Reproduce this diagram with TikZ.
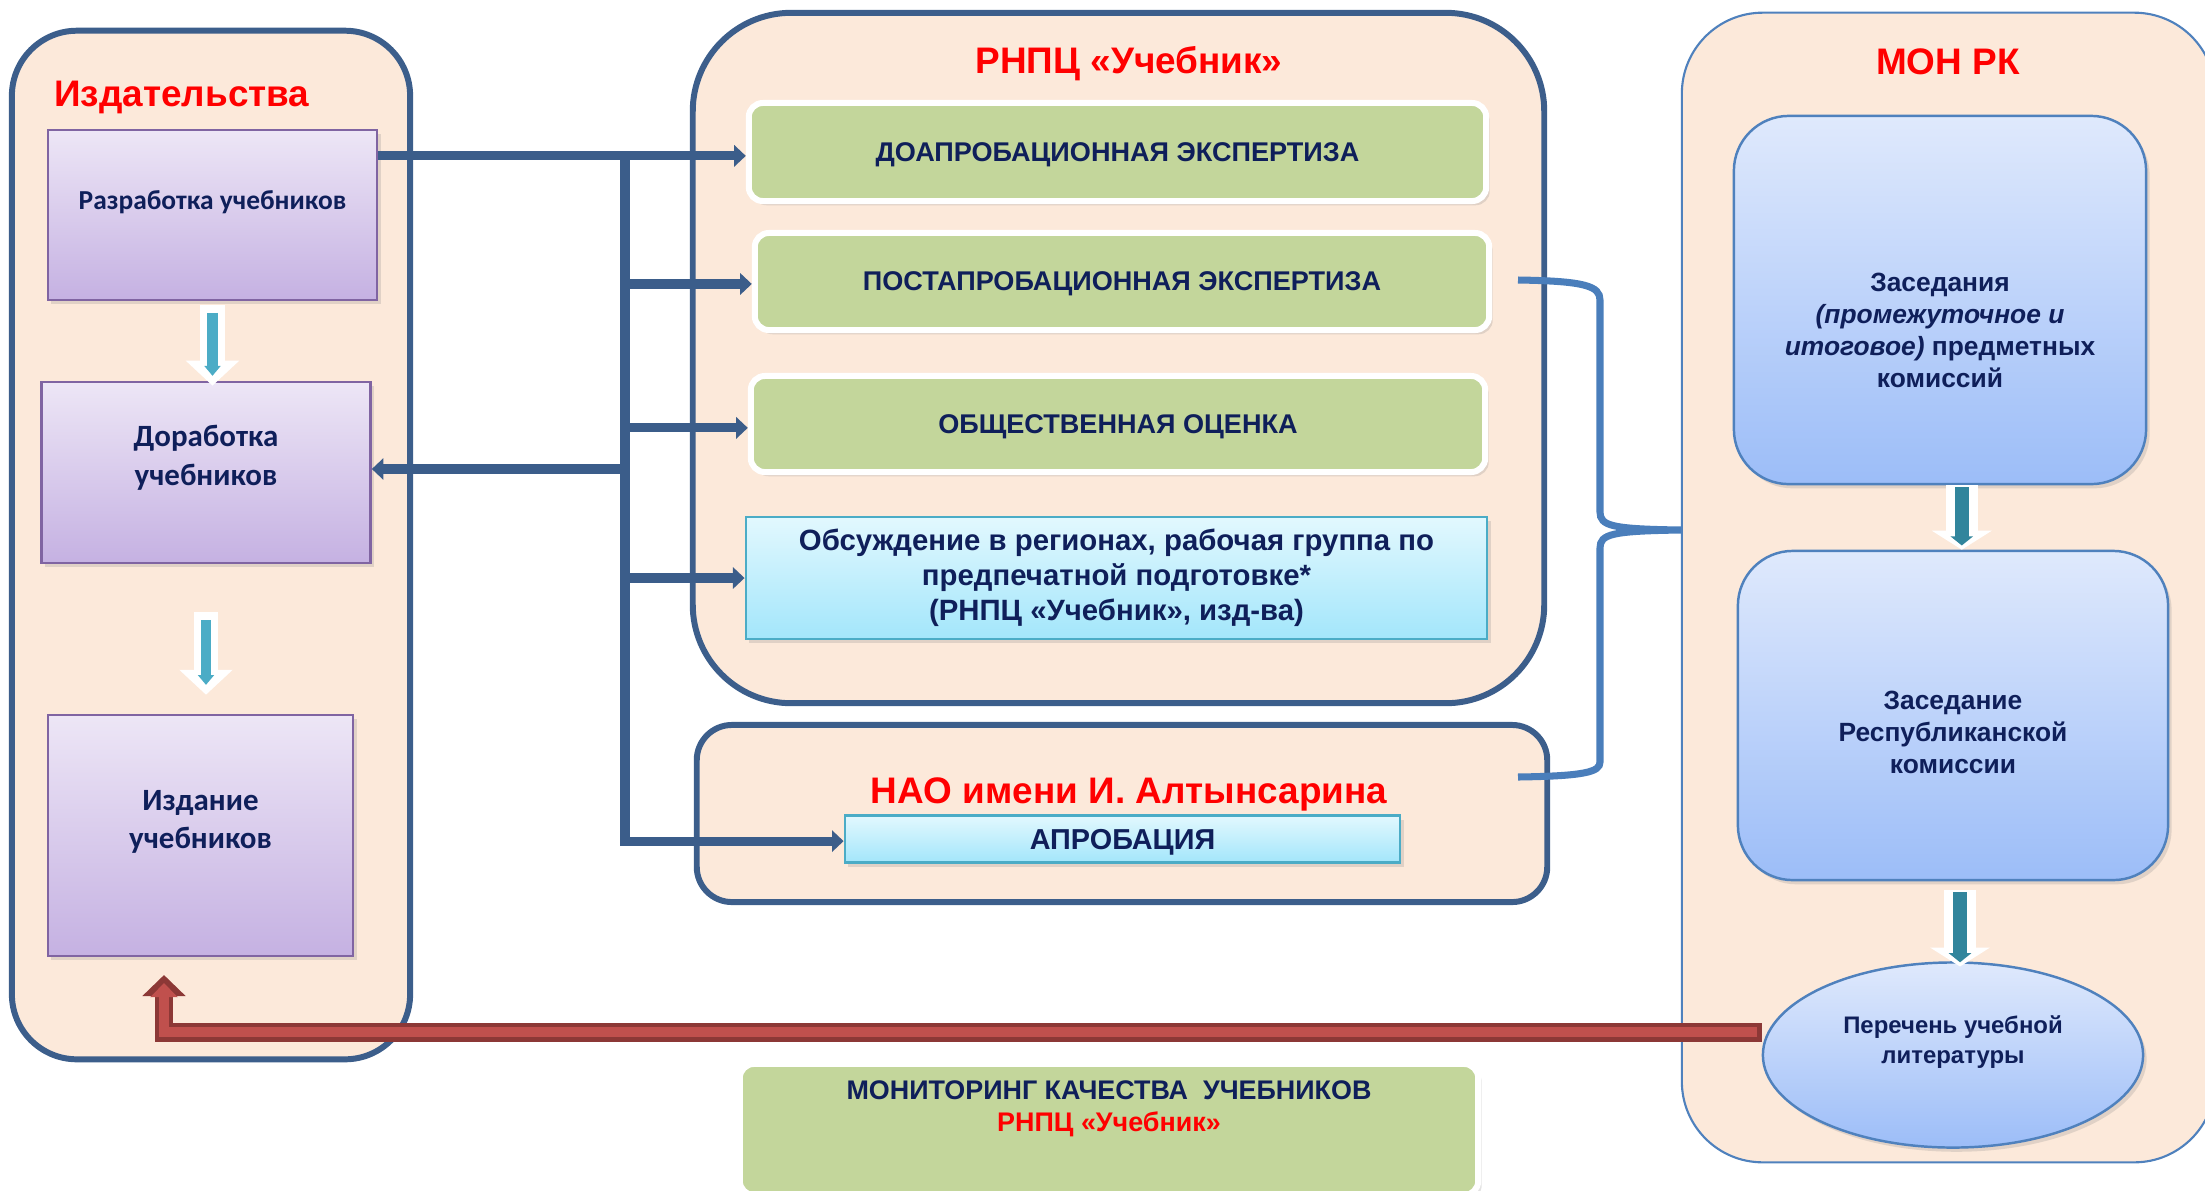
\documentclass[tikz,border=0pt]{standalone}
\usepackage{fontspec}
\setmainfont{Liberation Sans}
\newfontfamily\calfont{Carlito}
\usetikzlibrary{arrows.meta,shadows,shapes.geometric,calc}

\definecolor{peach}{HTML}{FCE9DA}
\definecolor{frame}{HTML}{3C5E8B}
\definecolor{navy}{HTML}{0F1F5A}
\definecolor{busblue}{HTML}{3B5D8A}
\definecolor{braceblue}{HTML}{4A7EBB}
\definecolor{grn}{HTML}{C3D69B}
\definecolor{lilac1}{HTML}{EDE6F6}
\definecolor{lilac2}{HTML}{C5B1E2}
\definecolor{lilacedge}{HTML}{8064A2}
\definecolor{cyan1}{HTML}{E2F8FE}
\definecolor{cyan2}{HTML}{A3E6FB}
\definecolor{cyanedge}{HTML}{4BACC6}
\definecolor{sky1}{HTML}{DFE9FC}
\definecolor{sky2}{HTML}{9CBDF8}
\definecolor{skyedge}{HTML}{4F81BD}
\definecolor{tealL}{HTML}{4BACC6}
\definecolor{tealR}{HTML}{31859C}
\definecolor{redfill}{HTML}{C0504D}
\definecolor{rededge}{HTML}{8C3836}

\tikzset{
  groupbox/.style={draw=frame, line width=1.7pt, fill=peach, inner sep=0pt},
  grouptitle/.style={text=red, font=\bfseries\fontsize{10.5}{12}\selectfont},
  softshadow/.style={drop shadow={opacity=0.22,shadow xshift=1pt,shadow yshift=-1.2pt}},
  lilacbox/.style={draw=lilacedge, line width=0.7pt, top color=lilac1, bottom color=lilac2, softshadow, inner sep=0pt},
  greenbox/.style={draw=white, line width=1.7pt, fill=grn, rounded corners=4pt, softshadow, inner sep=0pt,
    text depth=0pt, text=navy, font=\bfseries\fontsize{7.7}{9}\selectfont},
  cyanbox/.style={draw=cyanedge, line width=0.7pt, top color=cyan1, bottom color=cyan2, softshadow, inner sep=0pt,
    text=navy, align=center, font=\bfseries\fontsize{8.35}{10}\selectfont},
  skybox/.style={draw=skyedge, line width=0.7pt, top color=sky1, bottom color=sky2, softshadow, inner sep=0pt},
  lefttext/.style={text=navy, align=center, font=\calfont\bfseries\fontsize{8.8}{11}\selectfont},
  righttext/.style={text=navy, align=center, font=\bfseries\fontsize{7.5}{9.1}\selectfont},
  busline/.style={draw=busblue, line width=2.6pt},
  bustip/.style={-{Triangle[width=6pt,length=3.3pt]}},
  brace/.style={draw=braceblue, line width=2pt},
  hollowL/.style={draw=white, line width=7.1pt, -{Triangle[width=14.8pt,length=7.1pt]}},
  hollowLin/.style={draw=tealL, line width=3pt, -{Triangle[width=4.5pt,length=2.8pt]}, shorten <=2.3pt, shorten >=2.8pt},
  hollowR/.style={draw=white, line width=9.1pt, -{Triangle[width=16.8pt,length=5.4pt]}},
  hollowRin/.style={draw=tealR, line width=4pt, -{Triangle[width=6.3pt,length=2.6pt]}, shorten <=0.6pt, shorten >=1.2pt},
  redarrow/.style={draw=rededge, line width=5.4pt, line join=miter, -{Triangle[width=12pt,length=6pt]}},
  redarrowin/.style={draw=redfill, line width=3pt, line join=miter, -{Triangle[width=7.6pt,length=4pt]}, shorten >=2.3pt, shorten <=1.2pt}
}

\begin{document}
\begin{tikzpicture}[x=0.01cm,y=-0.01cm]
\useasboundingbox (0,0) rectangle (2205,1190);

% groups
\node[groupbox, rounded corners=18.5pt, minimum width=3.98cm, minimum height=10.28cm] (izd) at (211,545) {};
\node[groupbox, rounded corners=28pt, minimum width=8.51cm, minimum height=6.9cm] (rnpc) at (1118.5,358) {};
\node[groupbox, rounded corners=10pt, minimum width=8.5cm, minimum height=1.77cm] (nao) at (1122,813.5) {};
\node[groupbox, draw=skyedge, line width=0.6pt, rounded corners=23pt, minimum width=5.33cm, minimum height=11.49cm] (mon) at (1948.5,587.5) {};

\node[grouptitle, anchor=west] (izd-t) at (42,97) {Издательства};
\node[grouptitle] (rnpc-t) at (1129,64) {РНПЦ «Учебник»};
\node[grouptitle] (nao-t) at (1129,794) {НАО имени И. Алтынсарина};
\node[grouptitle] (mon-t) at (1948,62) {МОН РК};

% publishers
\node[lilacbox, minimum width=3.29cm, minimum height=1.7cm] (razr) at (212.5,215) {};
\node[lefttext, font=\calfont\bfseries\fontsize{7.8}{9}\selectfont] (razr-t) at (212.5,202) {Разработка учебников};
\node[lilacbox, minimum width=3.29cm, minimum height=1.81cm] (dorab) at (206,472.5) {};
\node[lefttext] (dorab-t) at (206,458) {Доработка\\учебников};
\node[lilacbox, minimum width=3.05cm, minimum height=2.41cm] (izdan) at (200.5,835.5) {};
\node[lefttext] (izdan-t) at (200.5,822) {Издание\\учебников};

% expertise
\node[greenbox, minimum width=7.37cm, minimum height=0.98cm] (doapr) at (1117.5,152) {ДОАПРОБАЦИОННАЯ ЭКСПЕРТИЗА};
\node[greenbox, minimum width=7.34cm, minimum height=0.97cm] (postapr) at (1122,281.5) {ПОСТАПРОБАЦИОННАЯ ЭКСПЕРТИЗА};
\node[greenbox, minimum width=7.34cm, minimum height=0.96cm] (obsh) at (1118,424) {ОБЩЕСТВЕННАЯ ОЦЕНКА};
\node[cyanbox, minimum width=7.41cm, minimum height=1.22cm] (obsuzh) at (1116.5,578) {Обсуждение в регионах, рабочая группа по\\предпечатной подготовке*\\(РНПЦ «Учебник», изд-ва)};
\node[cyanbox, text depth=0pt, font=\bfseries\fontsize{8.2}{10}\selectfont, minimum width=5.55cm, minimum height=0.47cm] (apr) at (1122.5,839) {АПРОБАЦИЯ};

% ministry
\node[skybox, rounded corners=15.6pt, minimum width=4.12cm, minimum height=3.68cm] (zas1) at (1940,300) {};
\node[righttext] (zas1-t) at (1940,330.5) {Заседания\\\textit{(промежуточное и}\\\textit{итоговое)} предметных\\комиссий};
\node[skybox, rounded corners=15.6pt, minimum width=4.3cm, minimum height=3.29cm] (zas2) at (1953,715.5) {};
\node[righttext] (zas2-t) at (1953,732.5) {Заседание\\Республиканской\\комиссии};
\node[skybox, ellipse, minimum width=3.8cm, minimum height=1.85cm] (per) at (1953,1055) {};
\node[righttext, font=\bfseries\fontsize{6.8}{8.4}\selectfont] (per-t) at (1953,1042) {Перечень учебной\\литературы};

% monitoring
\node[greenbox, minimum width=7.38cm, minimum height=1.31cm] (monit) at (1109,1129.5) {};
\node[righttext, font=\bfseries\fontsize{7.65}{9.2}\selectfont] (monit-t) at (1109,1109) {МОНИТОРИНГ КАЧЕСТВА\ \ УЧЕБНИКОВ\\\textcolor{red}{РНПЦ «Учебник»}};

% bus
\coordinate (trunk) at (625,0);
\draw[busline, bustip] ([yshift=-1.1pt]razr.east |- doapr.west) -- ([yshift=-1.1pt]doapr.west);
\draw[busline, line cap=rect] ([yshift=-1.1pt]trunk |- doapr.west) -- ([yshift=-0.6pt]trunk |- apr.west);
\foreach \b/\s in {postapr/-0.7pt,obsh/-1.1pt,obsuzh/0pt,apr/-0.6pt}
  \draw[busline, bustip] ([yshift=\s]trunk |- \b.west) -- ([yshift=\s]\b.west);
\draw[busline, bustip] ([yshift=1pt]trunk |- dorab.east) -- ([yshift=1pt]dorab.east);

% brace
\coordinate (brtip) at (mon.west |- 0,530);
\draw[brace] (1518,280) .. controls (1585,281) and (1600,286) .. (1600,300) -- (1600,512)
  .. controls (1600,526) and (1612,529) .. (brtip)
  .. controls (1612,531) and (1600,534) .. (1600,548) -- (1600,762)
  .. controls (1600,772) and (1585,776) .. (1518,777);

% steps
\draw[hollowL] ([yshift=-1pt]razr.south) -- ([yshift=-1.4pt]razr.south |- dorab.north);
\draw[hollowLin] ([yshift=-1pt]razr.south) -- ([yshift=-1.4pt]razr.south |- dorab.north);
\draw[hollowL] ([yshift=-13.6pt]dorab.south) -- ([yshift=5.4pt]dorab.south |- izdan.north);
\draw[hollowLin] ([yshift=-13.6pt]dorab.south) -- ([yshift=5.4pt]dorab.south |- izdan.north);
\draw[hollowR] ([xshift=2.5pt]zas1.south -| zas2.north) -- ([xshift=2.5pt]zas2.north);
\draw[hollowRin] ([xshift=2.5pt]zas1.south -| zas2.north) -- ([xshift=2.5pt]zas2.north);
\draw[hollowR] ([shift={(2pt,-2.5pt)}]zas2.south) -- ([shift={(2pt,-1.5pt)}]per.north);
\draw[hollowRin] ([shift={(2pt,-2.5pt)}]zas2.south) -- ([shift={(2pt,-1.5pt)}]per.north);

% back to publishers
\coordinate (lit) at (164,975);
\draw[redarrow] (per.west |- 0,1032) -| (lit);
\draw[redarrowin] (per.west |- 0,1032) -| (lit);
\end{tikzpicture}
\end{document}
